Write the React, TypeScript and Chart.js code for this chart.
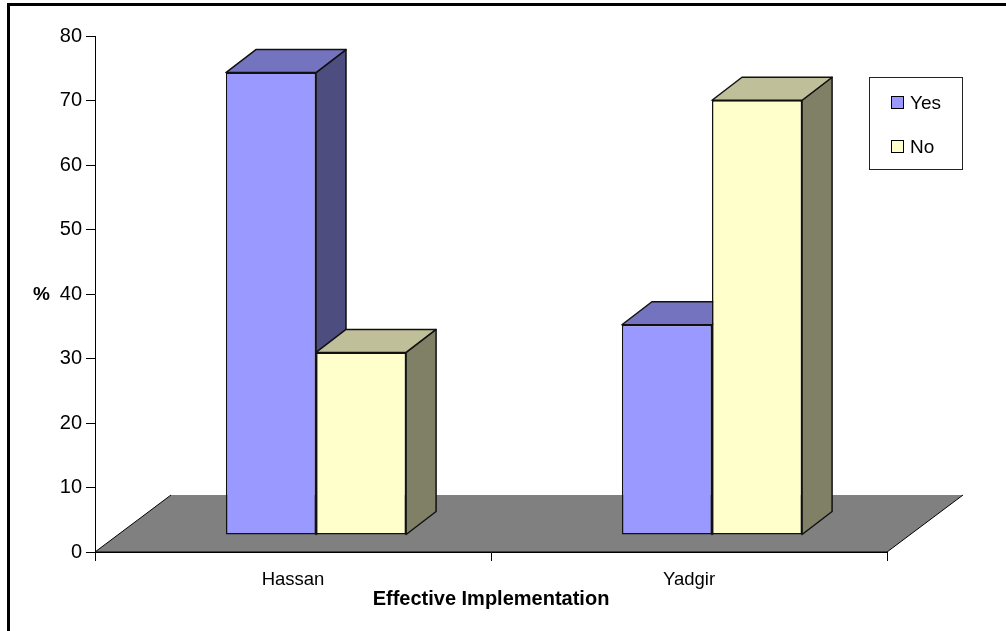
import React, { useEffect, useRef } from "react";
import { Chart, registerables } from "chart.js";

Chart.register(...registerables);

// ---- data ----
const categories = ["Hassan", "Yadgir"];
const seriesNames = ["Yes", "No"];
const yesValues = [71.7, 32.6];
const noValues = [28.3, 67.4];
const yMin = 0;
const yMax = 80;
const yStep = 10;
const xAxisTitle = "Effective Implementation";
const yAxisTitle = "%";

const FONT = '"Liberation Sans", Arial, Helvetica, sans-serif';

// front / top / side shades for each series
const faceColors = [
  { front: "#9999FF", top: "#7373BF", side: "#4D4D80" },
  { front: "#FFFFCC", top: "#BFBF99", side: "#808066" },
];

// oblique projection used for the pseudo 3-D look (pixels)
const FLOOR_DX = 76;
const FLOOR_DY = 57;
const BAR_SHIFT_X = 23;
const BAR_SHIFT_Y = 17;
const BAR_DEPTH_X = 30;
const BAR_DEPTH_Y = 23;

function barRect(el: any) {
  const p = el.getProps(["x", "y", "base", "width"], true);
  const left = p.x - p.width / 2 + BAR_SHIFT_X;
  const right = p.x + p.width / 2 + BAR_SHIFT_X;
  const top = Math.min(p.y, p.base) - BAR_SHIFT_Y;
  const bottom = Math.max(p.y, p.base) - BAR_SHIFT_Y;
  return { left, right, top, bottom };
}

function poly(ctx: CanvasRenderingContext2D, pts: number[][], fill: string) {
  ctx.beginPath();
  ctx.moveTo(pts[0][0], pts[0][1]);
  for (let i = 1; i < pts.length; i++) ctx.lineTo(pts[i][0], pts[i][1]);
  ctx.closePath();
  ctx.fillStyle = fill;
  ctx.fill();
  ctx.stroke();
}

const depthPlugin = {
  id: "depth3d",
  beforeDraw(chart: any) {
    const ctx: CanvasRenderingContext2D = chart.ctx;
    ctx.save();
    ctx.fillStyle = "#ffffff";
    ctx.fillRect(0, 0, chart.width, chart.height);
    // outer frame (top and left edges visible)
    ctx.strokeStyle = "#000";
    ctx.lineWidth = 3;
    ctx.beginPath();
    ctx.moveTo(8.5, chart.height + 10);
    ctx.lineTo(8.5, 4.5);
    ctx.lineTo(chart.width + 10, 4.5);
    ctx.stroke();
    ctx.restore();
  },
  beforeDatasetsDraw(chart: any) {
    const ctx: CanvasRenderingContext2D = chart.ctx;
    const area = chart.chartArea;
    const yScale = chart.scales.y;
    const base = yScale.getPixelForValue(0);
    ctx.save();
    // floor
    ctx.beginPath();
    ctx.moveTo(area.left, base);
    ctx.lineTo(area.right, base);
    ctx.lineTo(area.right + FLOOR_DX, base - FLOOR_DY);
    ctx.lineTo(area.left + FLOOR_DX, base - FLOOR_DY);
    ctx.closePath();
    ctx.fillStyle = "#808080";
    ctx.fill();
    ctx.strokeStyle = "#000";
    ctx.lineWidth = 1;
    ctx.beginPath();
    ctx.moveTo(area.left + FLOOR_DX, base - FLOOR_DY);
    ctx.lineTo(area.left, base);
    ctx.lineTo(area.right, base);
    ctx.lineTo(area.right + FLOOR_DX, base - FLOOR_DY);
    ctx.stroke();

    // top and side faces of every bar, drawn before the front faces
    ctx.strokeStyle = "#111";
    ctx.lineWidth = 1.5;
    ctx.lineJoin = "round";
    const metas = chart.getSortedVisibleDatasetMetas();
    metas.forEach((meta: any) => {
      const c = faceColors[meta.index];
      meta.data.forEach((el: any) => {
        const r = barRect(el);
        poly(
          ctx,
          [
            [r.right, r.top],
            [r.right + BAR_DEPTH_X, r.top - BAR_DEPTH_Y],
            [r.right + BAR_DEPTH_X, r.bottom - BAR_DEPTH_Y],
            [r.right, r.bottom],
          ],
          c.side
        );
        poly(
          ctx,
          [
            [r.left, r.top],
            [r.left + BAR_DEPTH_X, r.top - BAR_DEPTH_Y],
            [r.right + BAR_DEPTH_X, r.top - BAR_DEPTH_Y],
            [r.right, r.top],
          ],
          c.top
        );
      });
    });
    ctx.restore();
  },
  beforeDatasetDraw(chart: any) {
    chart.ctx.save();
    chart.ctx.translate(BAR_SHIFT_X, -BAR_SHIFT_Y);
  },
  afterDatasetDraw(chart: any) {
    chart.ctx.restore();
  },
  afterDraw(chart: any) {
    const ctx: CanvasRenderingContext2D = chart.ctx;
    const area = chart.chartArea;
    ctx.save();
    // value axis title
    ctx.fillStyle = "#000";
    ctx.font = `bold 19px ${FONT}`;
    ctx.textAlign = "center";
    ctx.textBaseline = "middle";
    ctx.fillText(yAxisTitle, 41.5, (area.top + area.bottom) / 2 + 1);

    // legend
    const lx = 869.5;
    const ly = 77.5;
    ctx.strokeStyle = "#222";
    ctx.lineWidth = 1;
    ctx.strokeRect(lx, ly, 93, 92);
    ctx.font = `19px ${FONT}`;
    ctx.textAlign = "left";
    chart.data.datasets.forEach((ds: any, i: number) => {
      const cy = 102.5 + i * 44;
      ctx.fillStyle = faceColors[i].front;
      ctx.fillRect(891.5, cy - 6, 12, 12);
      ctx.strokeStyle = "#000";
      ctx.strokeRect(891.5, cy - 6, 12, 12);
      ctx.fillStyle = "#000";
      ctx.fillText(ds.label, 910, cy + 1);
    });
    ctx.restore();
  },
};

export default function App() {
  const canvasRef = useRef<HTMLCanvasElement | null>(null);

  useEffect(() => {
    if (!canvasRef.current) return;
    const chart = new Chart(canvasRef.current, {
      type: "bar",
      data: {
        labels: categories,
        datasets: [
          {
            label: seriesNames[0],
            data: yesValues,
            backgroundColor: faceColors[0].front,
            borderColor: "#111",
            borderWidth: 1.5,
            borderSkipped: false,
            clip: false as any,
          },
          {
            label: seriesNames[1],
            data: noValues,
            backgroundColor: faceColors[1].front,
            borderColor: "#111",
            borderWidth: 1.5,
            borderSkipped: false,
            clip: false as any,
          },
        ],
      },
      options: {
        animation: false,
        responsive: false,
        devicePixelRatio: 1,
        datasets: {
          bar: { categoryPercentage: 0.455, barPercentage: 1 },
        },
        layout: { padding: { left: 0, top: 36, right: 119, bottom: 0 } },
        plugins: {
          legend: { display: false },
          tooltip: { enabled: false },
          title: { display: false },
        },
        scales: {
          x: {
            type: "category",
            offset: true,
            grid: {
              display: true,
              offset: true,
              drawOnChartArea: false,
              drawTicks: true,
              tickLength: 9,
              color: "#000",
            },
            border: { display: true, color: "#000", width: 1 },
            ticks: {
              color: "#000",
              font: { family: FONT, size: 18.5 },
              padding: 8,
              maxRotation: 0,
            },
            title: {
              display: true,
              text: xAxisTitle,
              color: "#000",
              font: { family: FONT, size: 20, weight: "bold" },
              padding: { top: 0, bottom: 20 },
            },
            afterFit: (s: any) => {
              s.height = 79;
            },
          },
          y: {
            min: yMin,
            max: yMax,
            ticks: {
              stepSize: yStep,
              color: "#000",
              font: { family: FONT, size: 20 },
              padding: 4,
            },
            grid: {
              display: true,
              drawOnChartArea: false,
              drawTicks: true,
              tickLength: 9,
              color: "#000",
            },
            border: { display: true, color: "#000", width: 1 },
            afterFit: (s: any) => {
              s.width = 95;
            },
          },
        },
      },
      plugins: [depthPlugin],
    } as any);
    return () => chart.destroy();
  }, []);

  return (
    <div style={{ position: "absolute", left: 0, top: 0, width: 1006, height: 631 }}>
      <canvas ref={canvasRef} width={1006} height={631} />
    </div>
  );
}
